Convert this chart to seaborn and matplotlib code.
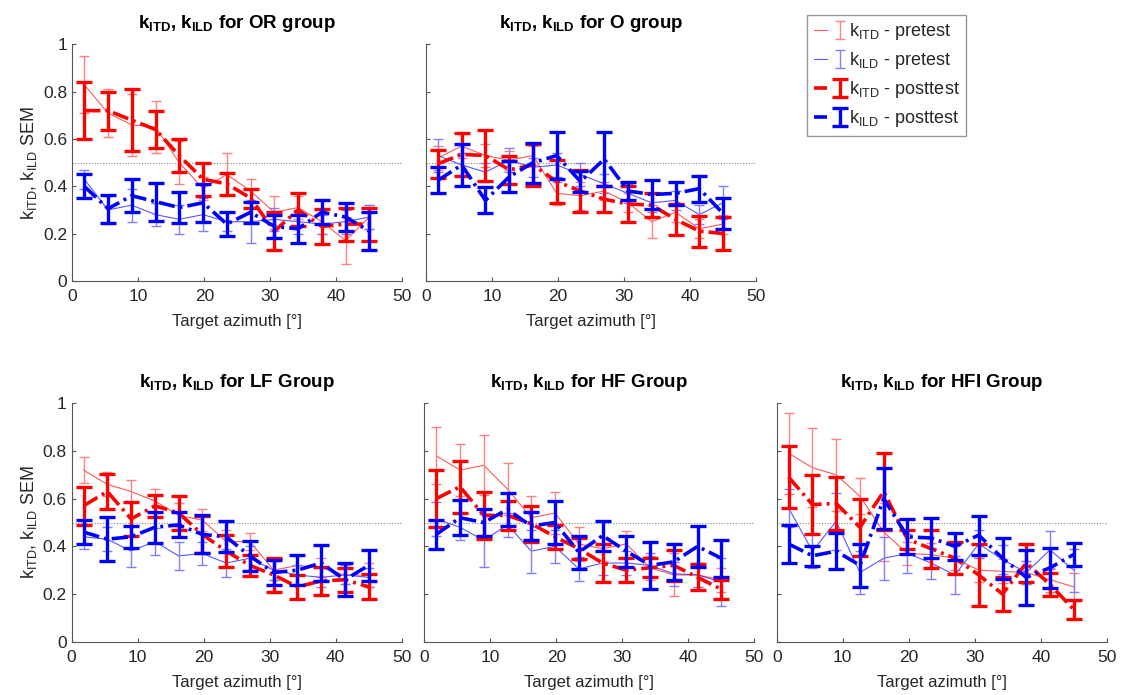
import matplotlib
matplotlib.use("Agg")
import matplotlib.pyplot as plt
from matplotlib.legend_handler import HandlerTuple
import numpy as np
import pandas as pd
import seaborn as sns

# target azimuth bins (deg)
AZIMUTH = [1.8, 5.4, 9.0, 12.6, 16.2, 19.8, 23.4, 27.0, 30.6, 34.2, 37.8, 41.4, 45.0]

# OR group
OR_ITD_PRE = [0.83, 0.71, 0.66, 0.65, 0.50, 0.39, 0.45, 0.38, 0.29, 0.31, 0.25, 0.17, 0.27]
OR_ITD_PRE_SEM = [0.12, 0.10, 0.13, 0.11, 0.09, 0.05, 0.09, 0.05, 0.07, 0.05, 0.05, 0.10, 0.05]
OR_ILD_PRE = [0.43, 0.30, 0.32, 0.28, 0.26, 0.28, 0.25, 0.25, 0.26, 0.25, 0.24, 0.25, 0.27]
OR_ILD_PRE_SEM = [0.04, 0.06, 0.07, 0.05, 0.06, 0.07, 0.04, 0.09, 0.05, 0.05, 0.04, 0.05, 0.05]
OR_ITD_POST = [0.72, 0.72, 0.68, 0.64, 0.53, 0.43, 0.41, 0.35, 0.21, 0.30, 0.23, 0.24, 0.24]
OR_ITD_POST_SEM = [0.12, 0.08, 0.13, 0.08, 0.07, 0.07, 0.045, 0.04, 0.08, 0.07, 0.075, 0.07, 0.07]
OR_ILD_POST = [0.40, 0.305, 0.36, 0.335, 0.31, 0.33, 0.24, 0.29, 0.23, 0.22, 0.29, 0.27, 0.21]
OR_ILD_POST_SEM = [0.05, 0.06, 0.07, 0.08, 0.065, 0.08, 0.05, 0.045, 0.05, 0.06, 0.05, 0.06, 0.08]

# O group
O_ITD_PRE = [0.52, 0.57, 0.53, 0.51, 0.53, 0.37, 0.36, 0.38, 0.33, 0.25, 0.29, 0.22, 0.24]
O_ITD_PRE_SEM = [0.05, 0.05, 0.05, 0.04, 0.04, 0.05, 0.06, 0.04, 0.04, 0.07, 0.04, 0.04, 0.04]
O_ILD_PRE = [0.53, 0.49, 0.46, 0.51, 0.48, 0.49, 0.45, 0.41, 0.37, 0.33, 0.34, 0.28, 0.33]
O_ILD_PRE_SEM = [0.07, 0.05, 0.04, 0.05, 0.04, 0.05, 0.05, 0.04, 0.04, 0.04, 0.04, 0.04, 0.07]
O_ITD_POST = [0.495, 0.535, 0.53, 0.47, 0.49, 0.42, 0.38, 0.345, 0.325, 0.32, 0.26, 0.21, 0.20]
O_ITD_POST_SEM = [0.06, 0.09, 0.107, 0.06, 0.09, 0.09, 0.09, 0.055, 0.075, 0.05, 0.065, 0.065, 0.07]
O_ILD_POST = [0.425, 0.49, 0.34, 0.44, 0.50, 0.53, 0.42, 0.515, 0.38, 0.365, 0.37, 0.39, 0.285]
O_ILD_POST_SEM = [0.055, 0.09, 0.055, 0.066, 0.085, 0.10, 0.045, 0.115, 0.04, 0.06, 0.05, 0.055, 0.067]

# LF group
LF_ITD_PRE = [0.72, 0.66, 0.63, 0.59, 0.53, 0.51, 0.42, 0.42, 0.30, 0.32, 0.31, 0.28, 0.28]
LF_ITD_PRE_SEM = [0.055, 0.05, 0.05, 0.05, 0.05, 0.045, 0.05, 0.035, 0.04, 0.04, 0.04, 0.04, 0.05]
LF_ILD_PRE = [0.44, 0.43, 0.38, 0.42, 0.36, 0.37, 0.33, 0.35, 0.30, 0.28, 0.27, 0.28, 0.27]
LF_ILD_PRE_SEM = [0.05, 0.05, 0.065, 0.055, 0.06, 0.05, 0.06, 0.05, 0.04, 0.04, 0.04, 0.04, 0.04]
LF_ITD_POST = [0.57, 0.63, 0.515, 0.57, 0.54, 0.45, 0.38, 0.32, 0.28, 0.23, 0.255, 0.26, 0.23]
LF_ITD_POST_SEM = [0.08, 0.073, 0.072, 0.047, 0.07, 0.077, 0.068, 0.045, 0.07, 0.05, 0.06, 0.05, 0.053]
LF_ILD_POST = [0.46, 0.43, 0.44, 0.48, 0.49, 0.45, 0.44, 0.36, 0.29, 0.30, 0.33, 0.26, 0.32]
LF_ILD_POST_SEM = [0.05, 0.092, 0.047, 0.065, 0.052, 0.08, 0.065, 0.063, 0.054, 0.064, 0.077, 0.07, 0.065]

# HF group
HF_ITD_PRE = [0.78, 0.72, 0.74, 0.64, 0.52, 0.54, 0.41, 0.39, 0.41, 0.31, 0.28, 0.28, 0.26]
HF_ITD_PRE_SEM = [0.12, 0.11, 0.125, 0.11, 0.09, 0.09, 0.07, 0.05, 0.055, 0.05, 0.09, 0.05, 0.05]
HF_ILD_PRE = [0.515, 0.48, 0.425, 0.49, 0.38, 0.40, 0.305, 0.33, 0.33, 0.32, 0.285, 0.28, 0.25]
HF_ILD_PRE_SEM = [0.07, 0.055, 0.11, 0.05, 0.09, 0.07, 0.05, 0.05, 0.05, 0.05, 0.05, 0.05, 0.10]
HF_ITD_POST = [0.60, 0.65, 0.53, 0.53, 0.495, 0.44, 0.39, 0.33, 0.30, 0.31, 0.32, 0.27, 0.22]
HF_ITD_POST_SEM = [0.12, 0.11, 0.10, 0.06, 0.075, 0.05, 0.045, 0.08, 0.05, 0.04, 0.065, 0.055, 0.04]
HF_ILD_POST = [0.45, 0.52, 0.50, 0.555, 0.485, 0.50, 0.375, 0.445, 0.38, 0.32, 0.335, 0.40, 0.35]
HF_ILD_POST_SEM = [0.06, 0.073, 0.057, 0.07, 0.06, 0.09, 0.07, 0.063, 0.065, 0.097, 0.075, 0.085, 0.078]

# HFI group
HFI_ITD_PRE = [0.79, 0.73, 0.70, 0.61, 0.46, 0.37, 0.365, 0.35, 0.30, 0.295, 0.29, 0.26, 0.23]
HFI_ITD_PRE_SEM = [0.17, 0.165, 0.15, 0.075, 0.12, 0.05, 0.05, 0.05, 0.05, 0.05, 0.05, 0.05, 0.06]
HFI_ILD_PRE = [0.56, 0.38, 0.505, 0.29, 0.35, 0.37, 0.33, 0.28, 0.41, 0.345, 0.29, 0.385, 0.30]
HFI_ILD_PRE_SEM = [0.08, 0.07, 0.12, 0.09, 0.09, 0.08, 0.065, 0.08, 0.06, 0.06, 0.05, 0.08, 0.09]
HFI_ITD_POST = [0.69, 0.575, 0.58, 0.48, 0.63, 0.43, 0.39, 0.35, 0.28, 0.20, 0.33, 0.24, 0.135]
HFI_ITD_POST_SEM = [0.13, 0.125, 0.11, 0.12, 0.16, 0.04, 0.08, 0.067, 0.13, 0.07, 0.08, 0.05, 0.04]
HFI_ILD_POST = [0.41, 0.36, 0.38, 0.32, 0.60, 0.44, 0.435, 0.40, 0.447, 0.35, 0.27, 0.31, 0.366]
HFI_ILD_POST_SEM = [0.08, 0.043, 0.075, 0.09, 0.127, 0.074, 0.085, 0.056, 0.082, 0.086, 0.116, 0.085, 0.05]

GROUPS = ["OR group", "O group", "LF Group", "HF Group", "HFI Group"]
SERIES = ["itd_pre", "ild_pre", "itd_post", "ild_post"]
VALUES = {
    "OR group": [(OR_ITD_PRE, OR_ITD_PRE_SEM), (OR_ILD_PRE, OR_ILD_PRE_SEM),
                 (OR_ITD_POST, OR_ITD_POST_SEM), (OR_ILD_POST, OR_ILD_POST_SEM)],
    "O group": [(O_ITD_PRE, O_ITD_PRE_SEM), (O_ILD_PRE, O_ILD_PRE_SEM),
                (O_ITD_POST, O_ITD_POST_SEM), (O_ILD_POST, O_ILD_POST_SEM)],
    "LF Group": [(LF_ITD_PRE, LF_ITD_PRE_SEM), (LF_ILD_PRE, LF_ILD_PRE_SEM),
                 (LF_ITD_POST, LF_ITD_POST_SEM), (LF_ILD_POST, LF_ILD_POST_SEM)],
    "HF Group": [(HF_ITD_PRE, HF_ITD_PRE_SEM), (HF_ILD_PRE, HF_ILD_PRE_SEM),
                 (HF_ITD_POST, HF_ITD_POST_SEM), (HF_ILD_POST, HF_ILD_POST_SEM)],
    "HFI Group": [(HFI_ITD_PRE, HFI_ITD_PRE_SEM), (HFI_ILD_PRE, HFI_ILD_PRE_SEM),
                  (HFI_ITD_POST, HFI_ITD_POST_SEM), (HFI_ILD_POST, HFI_ILD_POST_SEM)],
}

rows = []
for g in GROUPS:
    for s, (mean, sem) in zip(SERIES, VALUES[g]):
        for az, m, e in zip(AZIMUTH, mean, sem):
            rows.append({"group": g, "series": s, "azimuth": az, "k": m, "sem": e})
df = pd.DataFrame(rows)

# line / errorbar styles, MATLAB look
DASHDOT = (0, (4.5, 1.4, 0.8, 1.4))
STYLE = {
    "itd_pre": dict(color="#ff2020", lw=0.8, ls="-", alpha=0.75, ecolor="#ff8080", elw=1.0, cap=3.5),
    "ild_pre": dict(color="#2020ff", lw=0.8, ls="-", alpha=0.75, ecolor="#8080ff", elw=1.0, cap=3.5),
    "itd_post": dict(color="#ff0000", lw=2.6, ls=DASHDOT, alpha=1.0, ecolor="#ff0000", elw=2.4, cap=6),
    "ild_post": dict(color="#0000ff", lw=2.6, ls=DASHDOT, alpha=1.0, ecolor="#0000ff", elw=2.4, cap=6),
}
LABELS = {
    "itd_pre": r"$\mathrm{k}_\mathrm{ITD}$ - pretest",
    "ild_pre": r"$\mathrm{k}_\mathrm{ILD}$ - pretest",
    "itd_post": r"$\mathrm{k}_\mathrm{ITD}$ - posttest",
    "ild_post": r"$\mathrm{k}_\mathrm{ILD}$ - posttest",
}

sns.set_theme(style="white")
plt.rcParams["font.family"] = ["Liberation Sans", "DejaVu Sans"]
plt.rcParams["mathtext.fontset"] = "custom"
plt.rcParams["mathtext.rm"] = "Liberation Sans"
plt.rcParams["mathtext.bf"] = "Liberation Sans:bold"
plt.rcParams["mathtext.it"] = "Liberation Sans:italic"

fig = plt.figure(figsize=(11.34, 6.95), dpi=100)

# axes rectangles [left, bottom, width, height]
POS = {
    "OR group": [0.0638, 0.596, 0.291, 0.340],
    "O group": [0.3757, 0.596, 0.291, 0.340],
    "LF Group": [0.0632, 0.0767, 0.291, 0.343],
    "HF Group": [0.3742, 0.0767, 0.291, 0.343],
    "HFI Group": [0.6850, 0.0767, 0.291, 0.343],
}

handles = {}
for g in GROUPS:
    ax = fig.add_axes(POS[g])
    ax.axhline(0.5, color="#888888", lw=0.8, ls=(0, (1, 1.5)), zorder=0)
    sub = df[df["group"] == g]
    for s in SERIES:
        st = STYLE[s]
        d = sub[sub["series"] == s]
        sns.lineplot(data=d, x="azimuth", y="k", ax=ax, color=st["color"], lw=st["lw"],
                     linestyle=st["ls"], alpha=st["alpha"], legend=False, errorbar=None)
        line = ax.get_lines()[-1]
        eb = ax.errorbar(d["azimuth"], d["k"], yerr=d["sem"], fmt="none", ecolor=st["ecolor"],
                         elinewidth=st["elw"], capsize=st["cap"], capthick=st["elw"])
        if s not in handles:
            handles[s] = (line, eb)
    ax.set_xlim(0, 50)
    ax.set_ylim(0, 1)
    ax.set_xticks([0, 10, 20, 30, 40, 50])
    ax.set_yticks([0, 0.2, 0.4, 0.6, 0.8, 1])
    ax.set_yticklabels(["0", "0.2", "0.4", "0.6", "0.8", "1"])
    ax.tick_params(direction="in", length=3, width=0.8, colors="#555555",
                   labelcolor="#262626", labelsize=12.5, left=True, bottom=True)
    ax.tick_params(axis="x", pad=6)
    for side in ["top", "right"]:
        ax.spines[side].set_visible(False)
    for side in ["left", "bottom"]:
        ax.spines[side].set_color("#555555")
        ax.spines[side].set_linewidth(0.8)
    ax.set_xlabel("Target azimuth [°]", fontsize=12, color="#262626", labelpad=7)
    if g in ("OR group", "LF Group"):
        ax.set_ylabel(r"$\mathrm{k}_\mathrm{ITD}$, $\mathrm{k}_\mathrm{ILD}$ SEM",
                      fontsize=13, color="#262626", labelpad=3)
    else:
        ax.set_ylabel("")
        ax.tick_params(labelleft=False)
    ax.set_title(r"$\mathbf{k}_\mathbf{ITD}$, $\mathbf{k}_\mathbf{ILD}$ for " + g,
                 fontsize=13.5, fontweight="bold", color="black", pad=12)

leg = fig.legend([handles[s] for s in SERIES], [LABELS[s] for s in SERIES], loc="upper left",
                 bbox_to_anchor=(0.712, 0.979), fontsize=13, frameon=True, fancybox=False,
                 edgecolor="#808080", handlelength=1.8, handletextpad=0.15, labelspacing=0.45,
                 borderpad=0.35, borderaxespad=0.0,
                 handler_map={tuple: HandlerTuple(ndivide=None)})
leg.get_frame().set_linewidth(1.0)

fig.savefig("out.png", dpi=100)
